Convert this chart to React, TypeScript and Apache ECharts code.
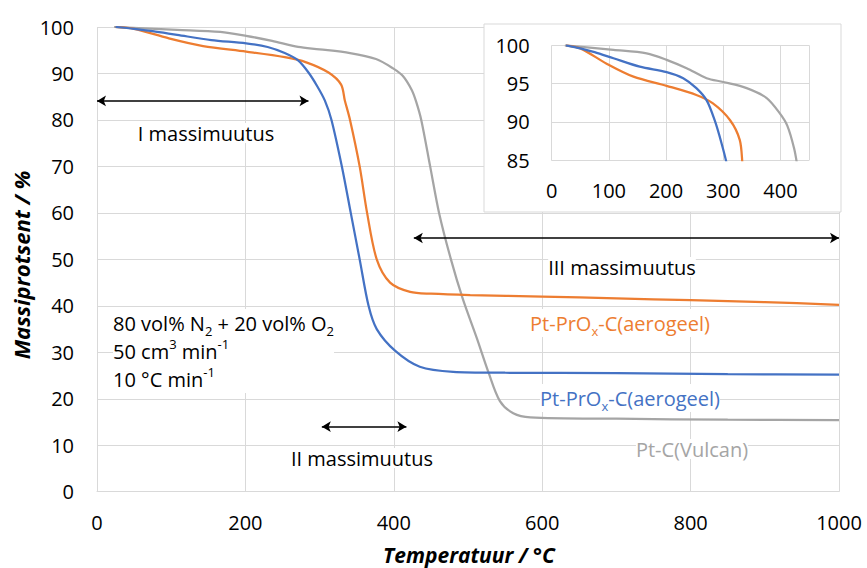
import React, { useEffect, useRef } from 'react';
import * as echarts from 'echarts';

// Pt-PrOx-C(aerogeel) – blue
const blueT = [25, 50, 75, 108, 154, 201, 230, 253, 271, 285, 297, 307, 316, 330, 342, 354, 366, 377, 402, 435, 480, 550, 700, 850, 1000];
const blueM = [100, 99.6, 99.1, 98.3, 97.2, 96.5, 95.7, 94.4, 92.8, 90.2, 87.2, 84.2, 80, 70, 60, 50, 40, 35, 30.3, 26.9, 25.8, 25.6, 25.5, 25.3, 25.2];

// Pt-PrOx-C(aerogeel) – orange
const orangeT = [25, 50, 96, 143, 201, 253, 282, 312, 329, 334, 341, 354, 364, 377, 395, 422, 450, 503, 600, 700, 800, 900, 1000];
const orangeM = [100, 99.6, 97.6, 95.9, 94.7, 93.5, 92.4, 90.2, 87.6, 84.2, 80, 70, 60, 50, 45, 43, 42.6, 42.3, 42, 41.6, 41.2, 40.8, 40.2];

// Pt-C(Vulcan) – gray
const grayT = [23, 108, 166, 201, 236, 271, 300, 341, 376, 399, 412, 424, 430, 437, 449, 461, 477, 493, 512, 528, 543, 561, 584, 700, 850, 1000];
const grayM = [100, 99.4, 98.95, 98.1, 97, 95.7, 95.2, 94.4, 93.1, 91.1, 89.5, 86.5, 84, 80, 70, 60, 50, 41.5, 33, 25.5, 19.5, 16.9, 16, 15.7, 15.5, 15.4];

// Mass change ranges (temperature from, to, at mass %)
const stageI = [0, 285, 84.1];
const stageII = [303, 417, 14];
const stageIII = [427, 1000, 54.6];

const mainXTicks = { min: 0, max: 1000, interval: 200 };
const mainYTicks = { min: 0, max: 100, interval: 10 };
const insetXTicks = { min: 0, max: 450, interval: 100 };
const insetYTicks = { min: 85, max: 100, interval: 5 };

const FONT = '"Open Sans", "Noto Sans", sans-serif';
const BLUE = '#4472C4';
const ORANGE = '#ED7D31';
const GRAY = '#A5A5A5';
const GRID = '#D9D9D9';

const pair = (t: number[], m: number[]) => t.map((x, i) => [x, m[i]]);

const arrow = (s: number[]) => [{ coord: [s[0], s[2]] }, { coord: [s[1], s[2]] }];

const axisCommon = {
  type: 'value' as const,
  axisTick: { show: false },
  splitLine: { show: true, lineStyle: { color: GRID, width: 1 } },
  axisLabel: { fontSize: 20, color: '#000', fontFamily: FONT, formatter: (v: number) => String(v) },
};

const subRich = (color: string) => ({
  n: { fontSize: 20, fontFamily: FONT, fill: color, lineHeight: 28 },
  s: { fontSize: 13, fontFamily: FONT, fill: color, lineHeight: 17, verticalAlign: 'bottom' },
  p: { fontSize: 13, fontFamily: FONT, fill: color, lineHeight: 20, verticalAlign: 'top' },
});

const plainText = (text: string, x: number, y: number, color = '#000') => ({
  type: 'text',
  x,
  y,
  z: 6,
  style: {
    text,
    fill: color,
    font: `20px ${FONT}`,
    align: 'center',
    verticalAlign: 'middle',
    backgroundColor: '#fff',
  },
});

const richLabel = (text: string, x: number, y: number, color: string, align = 'center') => ({
  type: 'text',
  x,
  y,
  z: 6,
  style: {
    text,
    rich: subRich(color),
    fill: color,
    font: `20px ${FONT}`,
    align,
    verticalAlign: 'middle',
    backgroundColor: '#fff',
  },
});

const lineSeries = (name: string, t: number[], m: number[], color: string, idx: number, extra: any = {}) => ({
  name,
  type: 'line',
  xAxisIndex: idx,
  yAxisIndex: idx,
  data: pair(t, m),
  symbol: 'none',
  smooth: 0.3,
  clip: true,
  z: idx === 0 ? 2 : 5,
  lineStyle: { color, width: 2.25 },
  itemStyle: { color },
  ...extra,
});

const option: any = {
  animation: false,
  backgroundColor: '#fff',
  grid: [
    { left: 97, top: 27, width: 742, height: 464.7 },
    { left: 551.7, top: 45.3, width: 257.3, height: 114.7 },
  ],
  xAxis: [
    {
      ...axisCommon,
      gridIndex: 0,
      ...mainXTicks,
      axisLine: { show: true, lineStyle: { color: GRID } },
      axisLabel: { ...axisCommon.axisLabel, margin: 21 },
    },
    {
      ...axisCommon,
      gridIndex: 1,
      ...insetXTicks,
      z: 4,
      axisLine: { show: true, lineStyle: { color: GRID } },
      axisLabel: { ...axisCommon.axisLabel, margin: 20 },
    },
  ],
  yAxis: [
    {
      ...axisCommon,
      gridIndex: 0,
      ...mainYTicks,
      axisLine: { show: false },
      axisLabel: { ...axisCommon.axisLabel, margin: 23 },
    },
    {
      ...axisCommon,
      gridIndex: 1,
      ...insetYTicks,
      z: 4,
      axisLine: { show: false },
      axisLabel: { ...axisCommon.axisLabel, margin: 22 },
    },
  ],
  series: [
    lineSeries('Pt-C(Vulcan)', grayT, grayM, GRAY, 0, {
      markLine: {
        silent: true,
        symbol: ['arrow', 'arrow'],
        symbolSize: [8, 9],
        lineStyle: { color: '#000', width: 1.5, type: 'solid' },
        label: { show: false },
        emphasis: { disabled: true },
        data: [arrow(stageI), arrow(stageII), arrow(stageIII)],
      },
    }),
    lineSeries('Pt-PrOx-C(aerogeel) 2', orangeT, orangeM, ORANGE, 0),
    lineSeries('Pt-PrOx-C(aerogeel) 1', blueT, blueM, BLUE, 0),
    lineSeries('Pt-C(Vulcan) inset', grayT, grayM, GRAY, 1),
    lineSeries('orange inset', orangeT, orangeM, ORANGE, 1),
    lineSeries('blue inset', blueT, blueM, BLUE, 1),
  ],
  graphic: [
    {
      type: 'rect',
      z: 3,
      shape: { x: 484, y: 24, width: 357, height: 188 },
      style: { fill: '#fff', stroke: GRID, lineWidth: 1 },
    },
    plainText('I massimuutus', 206, 133),
    plainText('II massimuutus', 362, 458),
    plainText('III massimuutus', 622, 267),
    richLabel('{n|Pt-PrO}{s|x}{n|-C(aerogeel)}', 620, 323, ORANGE),
    richLabel('{n|Pt-PrO}{s|x}{n|-C(aerogeel)}', 630, 398, BLUE),
    plainText('Pt-C(Vulcan)', 692, 449, '#A5A5A5'),
    {
      type: 'text',
      x: 113,
      y: 309,
      z: 6,
      style: {
        text: '{n|80 vol% N}{s|2}{n| + 20 vol% O}{s|2}\n{n|50 cm}{p|3}{n| min}{p|-1}\n{n|10 °C min}{p|-1}',
        rich: subRich('#000'),
        fill: '#000',
        font: `20px ${FONT}`,
        align: 'left',
        verticalAlign: 'top',
        backgroundColor: '#fff',
      },
    },
    {
      type: 'text',
      x: 469,
      y: 555,
      z: 6,
      style: {
        text: 'Temperatuur / °C',
        fill: '#000',
        font: `italic bold 21px ${FONT}`,
        align: 'center',
        verticalAlign: 'middle',
      },
    },
    {
      type: 'text',
      x: 21,
      y: 265,
      rotation: Math.PI / 2,
      z: 6,
      style: {
        text: 'Massiprotsent / %',
        fill: '#000',
        font: `italic bold 22px ${FONT}`,
        align: 'center',
        verticalAlign: 'middle',
      },
    },
  ],
};

export default function App() {
  const ref = useRef<HTMLDivElement>(null);
  useEffect(() => {
    document.body.style.margin = '0';
    const chart = echarts.init(ref.current!, null, { renderer: 'svg' });
    chart.setOption(option);
    return () => chart.dispose();
  }, []);
  return <div ref={ref} style={{ width: 867, height: 568 }} />;
}
